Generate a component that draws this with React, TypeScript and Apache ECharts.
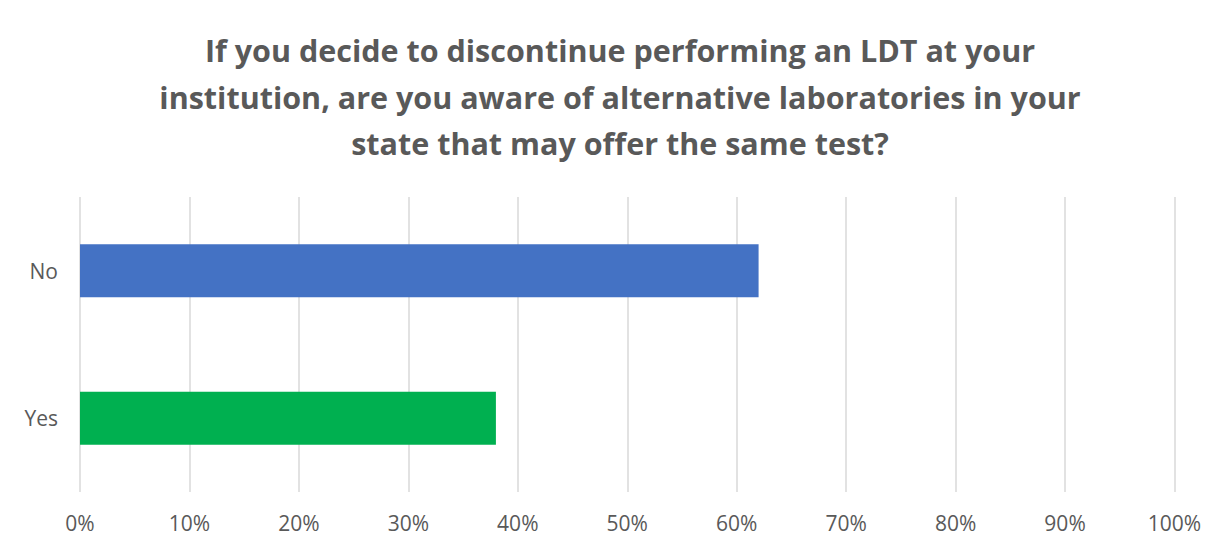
import React, { useEffect, useRef } from "react";
import * as echarts from "echarts";

const titleLines = [
  "If you decide to discontinue performing an LDT at your",
  "institution, are you aware of alternative laboratories in your",
  "state that may offer the same test?",
];
const categories = ["Yes", "No"];
const values = [38, 62];
const barColors = ["#00B050", "#4472C4"];
const xTicks = [0, 10, 20, 30, 40, 50, 60, 70, 80, 90, 100];

export default function App() {
  const ref = useRef<HTMLDivElement>(null);
  useEffect(() => {
    if (!ref.current) return;
    const chart = echarts.init(ref.current, null, { renderer: "svg" });
    chart.setOption({
      animation: false,
      backgroundColor: "#ffffff",
      graphic: [
        {
          type: "text",
          x: 612,
          y: 19,
          style: {
            text: titleLines.join("\n"),
            align: "center",
            verticalAlign: "top",
            fontFamily: "Open Sans",
            fontWeight: "bold",
            fontSize: 30.5,
            lineHeight: 46.5,
            fill: "#595959",
          },
        },
      ],
      grid: { left: 72, right: 55.5, top: 189, bottom: 74, containLabel: false },
      xAxis: {
        type: "value",
        min: xTicks[0],
        max: xTicks[xTicks.length - 1],
        interval: 10,
        axisLine: { show: false },
        axisTick: { show: false },
        splitLine: { show: true, lineStyle: { color: "#d9d9d9", width: 1.5 } },
        axisLabel: {
          formatter: "{value}%",
          color: "#595959",
          fontFamily: "Open Sans",
          fontSize: 21,
          margin: 20,
        },
      },
      yAxis: {
        type: "category",
        data: categories,
        axisLine: { show: false },
        axisTick: { show: false },
        axisLabel: {
          color: "#595959",
          fontFamily: "Open Sans",
          fontSize: 21,
          margin: 22,
        },
      },
      series: [
        {
          type: "bar",
          barWidth: 53,
          data: values.map((v, i) => ({ value: v, itemStyle: { color: barColors[i] } })),
        },
      ],
    });
    return () => chart.dispose();
  }, []);
  return (
    <div
      style={{
        width: 1224,
        height: 560,
        border: "1px solid #d4d4d4",
        marginLeft: -1,
        marginTop: -1,
        boxSizing: "border-box",
      }}
    >
      <div ref={ref} style={{ width: 1222, height: 558 }} />
    </div>
  );
}
